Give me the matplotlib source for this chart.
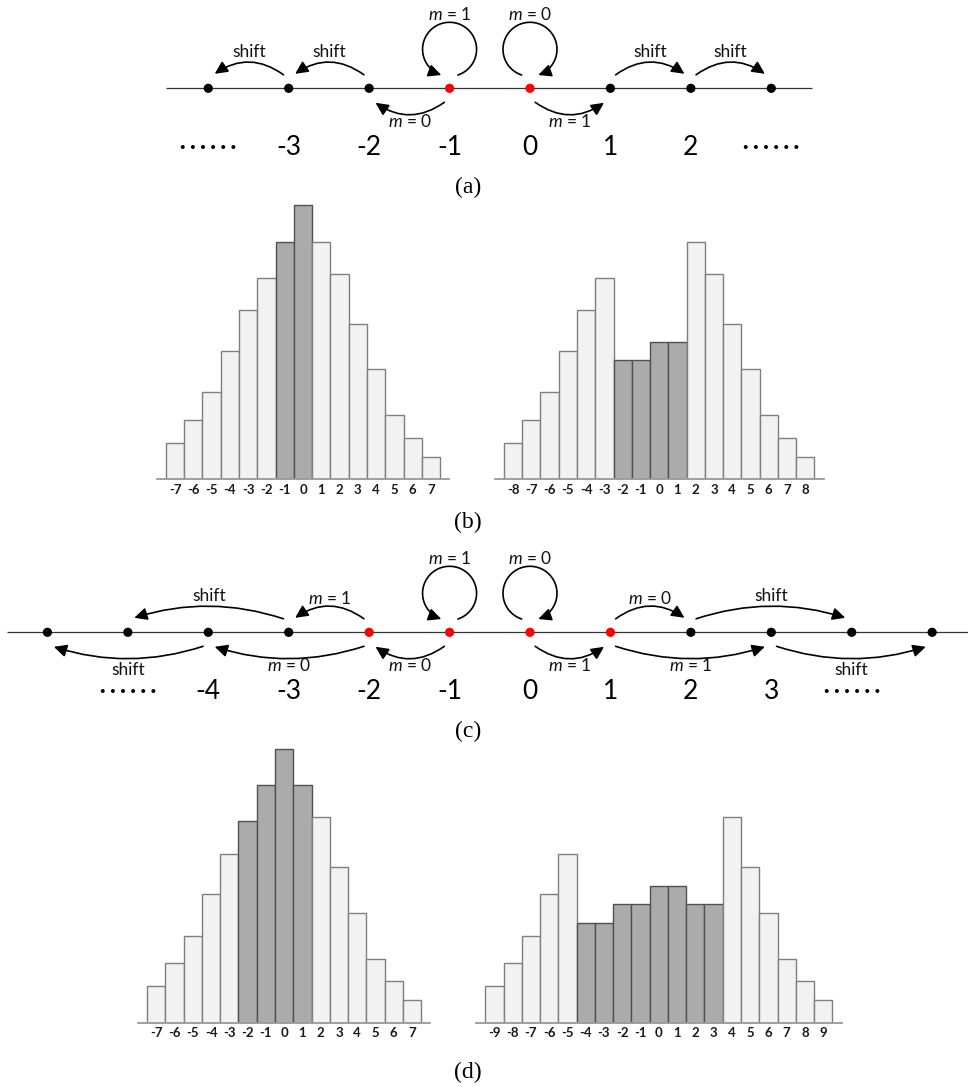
import numpy as np
import matplotlib
matplotlib.use('Agg')
import matplotlib.pyplot as plt
from matplotlib.patches import FancyArrowPatch
from matplotlib.path import Path

plt.rcParams['mathtext.fontset'] = 'custom'
plt.rcParams['mathtext.it'] = 'Lato:italic'
plt.rcParams['mathtext.rm'] = 'Lato'
plt.rcParams['mathtext.bf'] = 'Lato:bold'
plt.rcParams['font.family'] = ['Lato', 'DejaVu Sans']

# ---------------- data ----------------
# panel (a)
a_nodes = [-4, -3, -2, -1, 0, 1, 2, 3]
a_red = [-1, 0]
a_label_nodes = [-4, -3, -2, -1, 0, 1, 2, 3]
a_labels = ['......', '-3', '-2', '-1', '0', '1', '2', '......']
a_arrows = [(-2, -3, 'up', 'shift'), (-3, -4, 'up', 'shift'),
            (1, 2, 'up', 'shift'), (2, 3, 'up', 'shift'),
            (-1, -2, 'down', 'm = 0'), (0, 1, 'down', 'm = 1')]
a_loops = [(-1, 'm = 1', 'ccw'), (0, 'm = 0', 'cw')]

# panel (c)
c_nodes = [-6, -5, -4, -3, -2, -1, 0, 1, 2, 3, 4, 5]
c_red = [-2, -1, 0, 1]
c_label_nodes = [-5, -4, -3, -2, -1, 0, 1, 2, 3, 4]
c_labels = ['......', '-4', '-3', '-2', '-1', '0', '1', '2', '3', '......']
c_arrows = [(-2, -3, 'up', 'm = 1'), (-3, -5, 'up', 'shift'),
            (1, 2, 'up', 'm = 0'), (2, 4, 'up', 'shift'),
            (-1, -2, 'down', 'm = 0'), (-2, -4, 'down', 'm = 0'),
            (-4, -6, 'down', 'shift'), (0, 1, 'down', 'm = 1'),
            (1, 3, 'down', 'm = 1'), (3, 5, 'down', 'shift')]
c_loops = [(-1, 'm = 1', 'ccw'), (0, 'm = 0', 'cw')]

# panel (b) histograms
b_left_bins = list(range(-7, 8))
b_left_vals = [36.5, 59.5, 87, 128.5, 169, 201.5, 237.5, 274, 237.5, 205.5, 155.5, 110, 64, 41.5, 22.5]
b_left_dark = [-1, 0]
b_right_bins = list(range(-8, 9))
b_right_vals = [36.5, 59.5, 87, 128.5, 169, 201.5, 119, 119, 137, 137, 237.5, 205.5, 155.5, 110, 64, 41.5, 22.5]
b_right_dark = [-2, -1, 0, 1]

# panel (d) histograms
d_left_bins = list(range(-7, 8))
d_left_vals = [36.5, 59.5, 87, 128.5, 169, 201.5, 237.5, 274, 237.5, 205.5, 155.5, 110, 64, 41.5, 22.5]
d_left_dark = [-2, -1, 0, 1]
d_right_bins = list(range(-9, 10))
d_right_vals = [36.5, 59.5, 87, 128.5, 169, 100, 100, 119, 119, 137, 137, 119, 119, 205.5, 155.5, 110, 64, 41.5, 22.5]
d_right_dark = [-4, -3, -2, -1, 0, 1, 2, 3]

captions = ['(a)', '(b)', '(c)', '(d)']

# ---------------- layout ----------------
W, H = 968, 1087
fig = plt.figure(figsize=(W / 100, H / 100), dpi=100)


def px_axes(x0, y0, x1, y1):
    return fig.add_axes([x0 / W, 1 - y1 / H, (x1 - x0) / W, (y1 - y0) / H])


XL = (-530 / 80.43, (W - 530) / 80.43)
STEP = W / (XL[1] - XL[0])
ARROW = '-|>,head_length=0.45,head_width=0.22'


def mlabel(t):
    if t.startswith('m'):
        return '$m$' + t[1:]
    return t


def draw_diagram(ax, line_y, y0, y1, nodes, red, lab_nodes, labels, arrows, loops, line_range):
    ax.set_xlim(XL)
    ax.set_ylim(-(y1 - line_y), line_y - y0)
    ax.axis('off')
    ax.plot(line_range, [0, 0], color='#333333', lw=0.9, zorder=1, solid_capstyle='butt')
    cols = ['#ff0000' if n in red else 'black' for n in nodes]
    ax.scatter(nodes, np.zeros(len(nodes)), s=44, c=cols, zorder=3, linewidths=0)
    for n, t in zip(lab_nodes, labels):
        if t == '......':
            ax.text(n, -59.5, '\u00b7 \u00b7 \u00b7 \u00b7 \u00b7 \u00b7', fontsize=14, fontweight='black',
                    ha='center', va='center', color='black')
        else:
            ax.text(n, -59.5, t, fontsize=19, ha='center', va='center', color='black')
    for a, b, side, lab in arrows:
        d = np.sign(b - a)
        xa = a + 0.065 * d
        xb = b - 0.08 * d
        if side == 'up':
            ya, yb = 13.5, 14.5
        else:
            ya, yb = -14.0, -14.5
        L = abs(xb - xa) * STEP
        h = 12.0
        rad = (-d if side == 'up' else d) * 2 * h / L
        ax.add_patch(FancyArrowPatch((xa, ya), (xb, yb), connectionstyle=f'arc3,rad={rad:.4f}',
                                     arrowstyle=ARROW, mutation_scale=17, lw=1.2,
                                     color='black', shrinkA=0, shrinkB=0, zorder=2))
        if side == 'up':
            ly = 31 if lab == 'shift' else 28
        else:
            ly = -42.5 if lab == 'shift' else -38.7
        ax.text((xa + xb) / 2, ly, mlabel(lab), fontsize=12.5, ha='center', va='baseline', color='#111111')
    for n, lab, direction in loops:
        cy, r = 39.0, 27.0
        if direction == 'ccw':
            th = np.deg2rad(np.linspace(-72, 252, 90))
        else:
            th = np.deg2rad(np.linspace(252 - 360, -72 - 360, 90))
        xs = n + r * np.cos(th) / STEP
        ys = cy + r * np.sin(th)
        path = Path(np.column_stack([xs, ys]))
        ax.add_patch(FancyArrowPatch(path=path, arrowstyle=ARROW, mutation_scale=17, lw=1.2,
                                     color='black', zorder=2))
        ax.text(n, 68.3, mlabel(lab), fontsize=12.5, ha='center', va='baseline', color='#111111')


def draw_hist(ax, bins, vals, dark, xl):
    fc = ['#ababab' if b in dark else '#f2f2f2' for b in bins]
    ec = ['#505050' if b in dark else '#7f7f7f' for b in bins]
    ax.bar(bins, vals, width=1.0, color=fc, edgecolor=ec, linewidth=1.0, zorder=2)
    ax.set_xlim(xl)
    ax.set_ylim(0, 284)
    for s in ['top', 'left', 'right']:
        ax.spines[s].set_visible(False)
    ax.spines['bottom'].set_color('#999999')
    ax.spines['bottom'].set_linewidth(1.3)
    ax.spines['bottom'].set_zorder(3)
    ax.set_yticks([])
    ax.set_xticks(bins)
    ax.set_xticklabels([str(b) for b in bins], fontweight='bold', fontsize=9.5)
    ax.tick_params(axis='x', length=0, pad=3.5, colors='#1a1a1a')
    ax.patch.set_alpha(0)


# panel (a)
ax_a = px_axes(0, 0, W, 200)
draw_diagram(ax_a, 88.3, 0, 200, a_nodes, a_red, a_label_nodes, a_labels, a_arrows, a_loops, [-4.52, 3.5])

# panel (c)
ax_c = px_axes(0, 540, W, 740)
draw_diagram(ax_c, 632.3, 540, 740, c_nodes, c_red, c_label_nodes, c_labels, c_arrows, c_loops, [-6.5, 5.6])

# panel (b)
ax_b1 = px_axes(156.8, 195, 449.2, 479)
draw_hist(ax_b1, b_left_bins, b_left_vals, b_left_dark, (-8, 8))
ax_b2 = px_axes(494.8, 195, 823.6, 479)
draw_hist(ax_b2, b_right_bins, b_right_vals, b_right_dark, (-9, 9))

# panel (d)
ax_d1 = px_axes(138.0, 738.5, 430.3, 1022.5)
draw_hist(ax_d1, d_left_bins, d_left_vals, d_left_dark, (-8, 8))
ax_d2 = px_axes(476.1, 738.5, 841.5, 1022.5)
draw_hist(ax_d2, d_right_bins, d_right_vals, d_right_dark, (-10, 10))

# captions
for t, y in zip(captions, [187, 522, 731, 1072]):
    fig.text(468 / W, 1 - y / H, t, family='Liberation Serif', fontsize=17,
             ha='center', va='center', color='black')

fig.savefig('out.png', dpi=100, facecolor='white')
